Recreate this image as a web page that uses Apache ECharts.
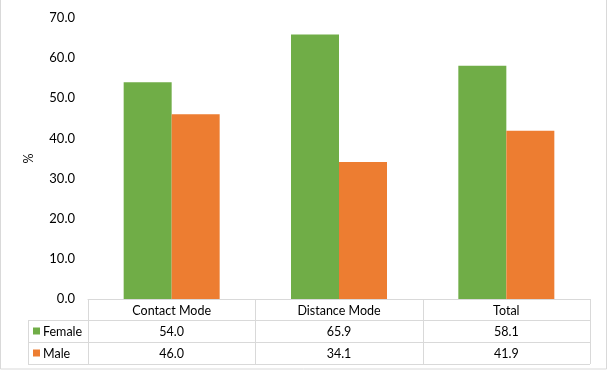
<!DOCTYPE html>
<html><head><meta charset="utf-8">
<script src="https://cdn.jsdelivr.net/npm/echarts@6/dist/echarts.min.js"></script>
<style>html,body{margin:0;padding:0;background:#fff}#c{width:609px;height:373px}</style>
</head><body><div id="c"></div>
<script>
const categories = ['Contact Mode', 'Distance Mode', 'Total'];
const female = [54.0, 65.9, 58.1];
const male = [46.0, 34.1, 41.9];
const seriesNames = ['Female', 'Male'];
const colors = ['#70AD47', '#ED7D31'];
const FONT = 'Lato';
const FS = 12.5;

const gridL = 88, gridR = 19, gridT = 18, gridB = 74;
const W = 609, H = 373;
const chart = echarts.init(document.getElementById('c'), null, {renderer: 'canvas'});
chart.setOption({
  animation: false,
  backgroundColor: '#fff',
  grid: {left: gridL, right: gridR, top: gridT, bottom: gridB},
  xAxis: {type: 'category', data: categories, axisLabel: {show: false}, axisTick: {show: false},
    axisLine: {show: true, lineStyle: {color: '#d9d9d9'}}},
  yAxis: {type: 'value', min: 0, max: 70, interval: 10, name: '%', nameLocation: 'middle', nameGap: 53,
    nameRotate: 90, nameTextStyle: {fontFamily: FONT, fontSize: FS, color: '#000'},
    axisLabel: {formatter: v => v.toFixed(1), fontFamily: FONT, fontSize: 13, color: '#000', margin: 13},
    splitLine: {show: false}, axisLine: {show: false}, axisTick: {show: false}},
  series: [
    {name: seriesNames[0], type: 'bar', data: female, barWidth: 48, barGap: '0%', itemStyle: {color: colors[0]}},
    {name: seriesNames[1], type: 'bar', data: male, barWidth: 48, barGap: '0%', itemStyle: {color: colors[1]}}
  ]
});

// Data table below the plot
const y0 = H - gridB; // 299
const rowH = [21, 22, 22];
const xs = [];
const plotW = W - gridL - gridR;
for (let i = 0; i <= categories.length; i++) xs.push(gridL + plotW * i / categories.length);
const ys = [y0, y0 + rowH[0], y0 + rowH[0] + rowH[1], y0 + rowH[0] + rowH[1] + rowH[2]];
const legX = 28;
const lc = '#d9d9d9';
const g = [];
function line(x1, y1, x2, y2) {
  g.push({type: 'line', shape: {x1, y1, x2, y2}, style: {stroke: lc, lineWidth: 1}, silent: true});
}
xs.forEach(x => line(Math.round(x) + 0.5, y0, Math.round(x) + 0.5, ys[3]));
line(legX + 0.5, ys[1], legX + 0.5, ys[3]);
line(legX, ys[1] + 0.5, xs[3], ys[1] + 0.5);
line(legX, ys[2] + 0.5, xs[3], ys[2] + 0.5);
line(legX, ys[3] + 0.5, xs[3], ys[3] + 0.5);
// outer border
g.push({type: 'rect', shape: {x: 0.5, y: -2, width: 606, height: 371}, style: {fill: 'none', stroke: '#d9d9d9', lineWidth: 1}, silent: true});
const ts = {fontFamily: FONT, fontSize: FS, fill: '#000'};
categories.forEach((c, i) => {
  const cx = (xs[i] + xs[i + 1]) / 2;
  g.push({type: 'text', x: cx, y: (ys[0] + ys[1]) / 2 + 1, style: Object.assign({text: c, align: 'center', verticalAlign: 'middle'}, ts)});
  [female, male].forEach((arr, r) => {
    g.push({type: 'text', x: cx, y: (ys[r + 1] + ys[r + 2]) / 2 + 1, style: Object.assign({text: arr[i].toFixed(1), align: 'center', verticalAlign: 'middle'}, ts)});
  });
});
seriesNames.forEach((n, r) => {
  const cy = (ys[r + 1] + ys[r + 2]) / 2;
  g.push({type: 'rect', shape: {x: 33, y: cy - 3.5, width: 7, height: 7}, style: {fill: colors[r]}});
  g.push({type: 'text', x: 43, y: cy + 1, style: Object.assign({text: n, align: 'left', verticalAlign: 'middle'}, ts)});
});
chart.setOption({graphic: g});
</script></body></html>
